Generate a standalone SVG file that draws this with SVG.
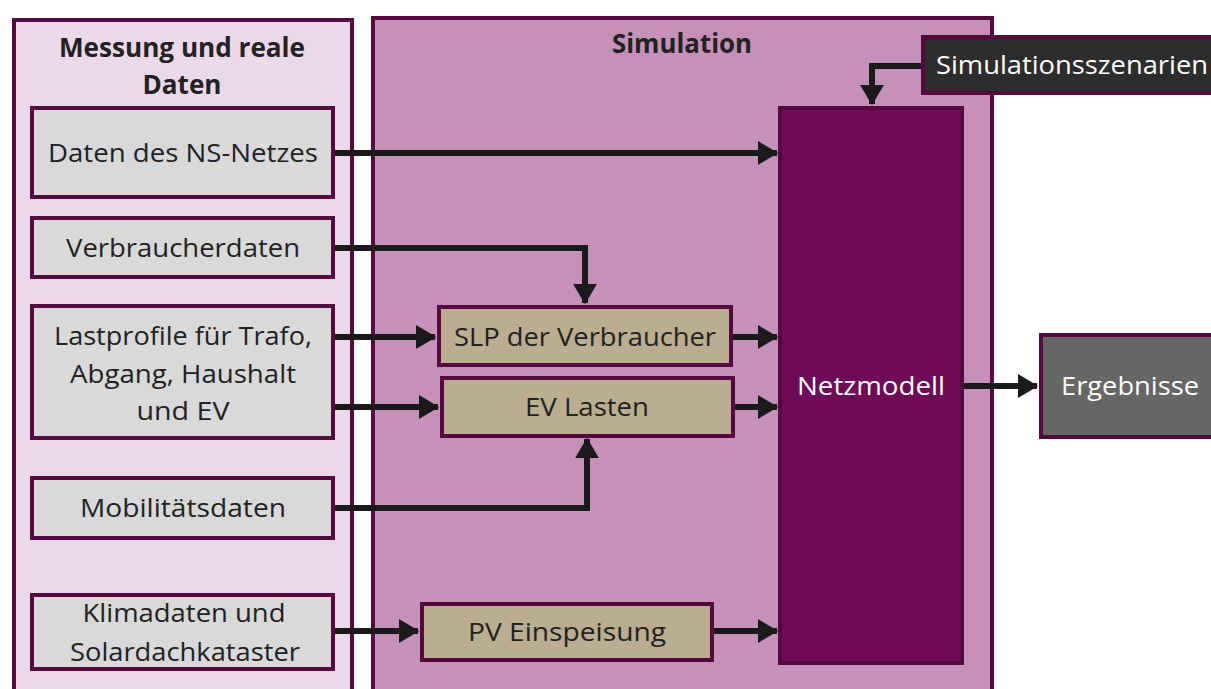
<svg xmlns="http://www.w3.org/2000/svg" width="1211" height="689" viewBox="0 0 1211 689">
<defs>
<marker id="ah" markerWidth="4" markerHeight="4" refX="3.2" refY="2" orient="auto" markerUnits="strokeWidth">
<path d="M0,0 L3.4,2 L0,4 Z" fill="#1a1a1a"/>
</marker>
<style>
.panel{stroke:#560840;stroke-width:4}
.box{stroke:#560840;stroke-width:4}
.in{fill:#d9d9d9}
.proc{fill:#bbad8f}
.t{font-family:"Open Sans","Liberation Sans",sans-serif;font-size:26px;fill:#222;text-anchor:middle}
.w{fill:#ffffff}
.b{font-weight:bold;font-size:26px}
.c{fill:none;stroke:#1a1a1a;stroke-width:6;marker-end:url(#ah)}
</style>
</defs>
<rect width="1211" height="689" fill="#ffffff"/>
<g id="panel-messung">
<rect class="panel" x="14" y="20" width="338" height="680" fill="#ead9e8"/>
<text class="t b" x="182" y="57" textLength="246" lengthAdjust="spacingAndGlyphs">Messung und reale</text>
<text class="t b" x="182" y="94" textLength="79" lengthAdjust="spacingAndGlyphs">Daten</text>
</g>
<g id="panel-simulation">
<rect class="panel" x="373" y="18" width="619" height="690" fill="#c691b8"/>
<text class="t b" x="682" y="53" textLength="140" lengthAdjust="spacingAndGlyphs">Simulation</text>
</g>
<g id="connectors">
<path class="c" d="M333,153 H777"/>
<path class="c" d="M333,248 H585 V303"/>
<path class="c" d="M333,337 H435"/>
<path class="c" d="M333,407 H438"/>
<path class="c" d="M333,508 H587 V439"/>
<path class="c" d="M731,337 H777"/>
<path class="c" d="M733,407 H777"/>
<path class="c" d="M333,631 H418"/>
<path class="c" d="M712,631 H777"/>
<path class="c" d="M922,66 H872 V104"/>
<path class="c" d="M962,386 H1037"/>
</g>
<g id="node-daten-ns">
<rect class="box in" x="32" y="108" width="301" height="89"/>
<text class="t" x="183" y="162" textLength="270" lengthAdjust="spacingAndGlyphs">Daten des NS-Netzes</text>
</g>
<g id="node-verbraucherdaten">
<rect class="box in" x="32" y="218" width="301" height="59"/>
<text class="t" x="183" y="257" textLength="234" lengthAdjust="spacingAndGlyphs">Verbraucherdaten</text>
</g>
<g id="node-lastprofile">
<rect class="box in" x="32" y="306" width="301" height="132"/>
<text class="t" x="183" y="345" textLength="258" lengthAdjust="spacingAndGlyphs">Lastprofile für Trafo,</text>
<text class="t" x="183" y="383" textLength="226" lengthAdjust="spacingAndGlyphs">Abgang, Haushalt</text>
<text class="t" x="183" y="420" textLength="93" lengthAdjust="spacingAndGlyphs">und EV</text>
</g>
<g id="node-mobilitaet">
<rect class="box in" x="32" y="478" width="301" height="60"/>
<text class="t" x="183" y="517" textLength="206" lengthAdjust="spacingAndGlyphs">Mobilitätsdaten</text>
</g>
<g id="node-klima">
<rect class="box in" x="32" y="595" width="301" height="74"/>
<text class="t" x="184" y="622" textLength="203" lengthAdjust="spacingAndGlyphs">Klimadaten und</text>
<text class="t" x="185" y="661" textLength="230" lengthAdjust="spacingAndGlyphs">Solardachkataster</text>
</g>
<g id="node-slp">
<rect class="box proc" x="439" y="307" width="292" height="58"/>
<text class="t" x="585" y="346" textLength="262" lengthAdjust="spacingAndGlyphs">SLP der Verbraucher</text>
</g>
<g id="node-ev">
<rect class="box proc" x="442" y="378" width="291" height="58"/>
<text class="t" x="587" y="416" textLength="124" lengthAdjust="spacingAndGlyphs">EV Lasten</text>
</g>
<g id="node-pv">
<rect class="box proc" x="422" y="604" width="290" height="56"/>
<text class="t" x="567" y="641" textLength="198" lengthAdjust="spacingAndGlyphs">PV Einspeisung</text>
</g>
<g id="node-netzmodell">
<rect class="box" x="780" y="108" width="182" height="555" fill="#6f0a57"/>
<text class="t w" x="871" y="395" textLength="148" lengthAdjust="spacingAndGlyphs">Netzmodell</text>
</g>
<g id="node-szenarien">
<rect class="box" x="923" y="37" width="300" height="56" fill="#2d2d2d"/>
<text class="t w" x="1072" y="74" textLength="272" lengthAdjust="spacingAndGlyphs">Simulationsszenarien</text>
</g>
<g id="node-ergebnisse">
<rect class="box" x="1041" y="335" width="180" height="102" fill="#666666"/>
<text class="t w" x="1130" y="395" textLength="138" lengthAdjust="spacingAndGlyphs">Ergebnisse</text>
</g>
</svg>
